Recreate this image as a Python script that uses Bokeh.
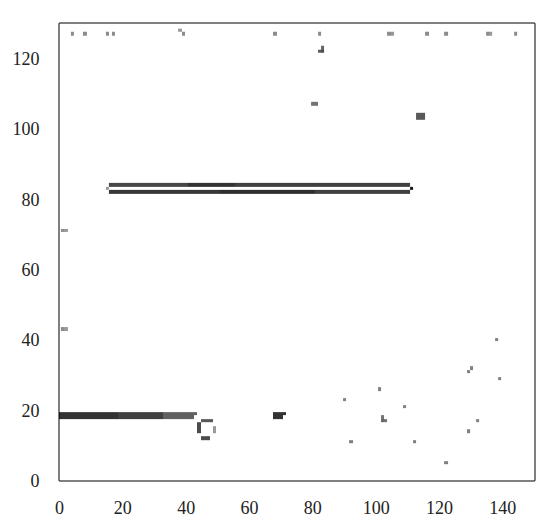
import numpy as np
from bokeh.plotting import figure
from bokeh.models import LinearColorMapper, Range1d, FixedTicker
from bokeh.palettes import Greys256
from bokeh.embed import file_html
from bokeh.resources import INLINE

# image extent (pixels)
IMG_W, IMG_H = 150, 130

# isolated grey pixels: x, y, grey level (0 = black, 1 = white)
dot_x = [4, 8, 15, 17, 38, 39, 68, 82, 104, 105, 116, 122, 135, 136, 144,
         1, 2, 1, 2,
         80, 81,
         82, 83, 83,
         138, 130, 129, 139, 101, 90, 109, 102, 102, 103, 132, 129, 92, 112, 122,
         15, 111]
dot_y = [127, 127, 127, 127, 128, 127, 127, 127, 127, 127, 127, 127, 127, 127, 127,
         71, 71, 43, 43,
         107, 107,
         122, 122, 123,
         40, 32, 31, 29, 26, 23, 21, 18, 17, 17, 17, 14, 11, 11, 5,
         83, 83]
dot_v = [0.55, 0.55, 0.55, 0.55, 0.6, 0.55, 0.55, 0.55, 0.55, 0.6, 0.55, 0.55, 0.55, 0.6, 0.55,
         0.55, 0.6, 0.55, 0.6,
         0.45, 0.45,
         0.35, 0.3, 0.4,
         0.5, 0.5, 0.5, 0.5, 0.5, 0.5, 0.5, 0.45, 0.4, 0.45, 0.5, 0.5, 0.5, 0.5, 0.5,
         0.6, 0.1]

# horizontal runs: row y, from x0 to x1 inclusive, grey level
run_y  = [84, 84, 84, 84, 82, 82, 82,
          19, 19, 19, 18, 18, 18,
          19, 18,
          17, 12,
          103, 104]
run_x0 = [16, 41, 56, 81, 16, 51, 81,
          0, 19, 33, 0, 19, 33,
          68, 68,
          45, 45,
          113, 113]
run_x1 = [40, 55, 80, 110, 50, 80, 110,
          18, 32, 43, 18, 32, 42,
          71, 70,
          48, 47,
          115, 115]
run_v  = [0.28, 0.2, 0.25, 0.25, 0.22, 0.18, 0.25,
          0.2, 0.25, 0.38, 0.2, 0.25, 0.38,
          0.2, 0.2,
          0.35, 0.3,
          0.35, 0.35]

# vertical runs: column x, from y0 to y1 inclusive, grey level
col_x  = [44, 49]
col_y0 = [14, 14]
col_y1 = [16, 15]
col_v  = [0.3, 0.6]

x_ticks = [0, 20, 40, 60, 80, 100, 120, 140]
y_ticks = [0, 20, 40, 60, 80, 100, 120]

arr = np.ones((IMG_H + 1, IMG_W + 1))
for x, y, v in zip(dot_x, dot_y, dot_v):
    arr[y, x] = v
for y, x0, x1, v in zip(run_y, run_x0, run_x1, run_v):
    arr[y, x0:x1 + 1] = v
for x, y0, y1, v in zip(col_x, col_y0, col_y1, col_v):
    arr[y0:y1 + 1, x] = v

p = figure(width=542, height=523, output_backend="svg", toolbar_location=None,
           x_range=Range1d(0, IMG_W), y_range=Range1d(0, IMG_H),
           min_border_left=59, min_border_right=8, min_border_top=23, min_border_bottom=43)

mapper = LinearColorMapper(palette=Greys256, low=0, high=1)
p.image(image=[arr], x=-0.5, y=-0.5, dw=IMG_W + 1, dh=IMG_H + 1, color_mapper=mapper)

p.grid.visible = False
p.background_fill_color = "white"
p.border_fill_color = "white"
p.outline_line_color = "black"
p.outline_line_width = 2
p.outline_line_alpha = 1

for ax in (p.xaxis, p.yaxis):
    ax.axis_line_color = None
    ax.major_tick_line_color = None
    ax.minor_tick_line_color = None
    ax.major_label_text_font = "Liberation Serif"
    ax.major_label_text_font_size = "18px"
    ax.major_label_text_color = "#222222"
    ax.major_label_standoff = 14

p.xaxis.ticker = FixedTicker(ticks=x_ticks)
p.yaxis.ticker = FixedTicker(ticks=y_ticks)

open("out.html", "w").write(file_html(p, INLINE))
